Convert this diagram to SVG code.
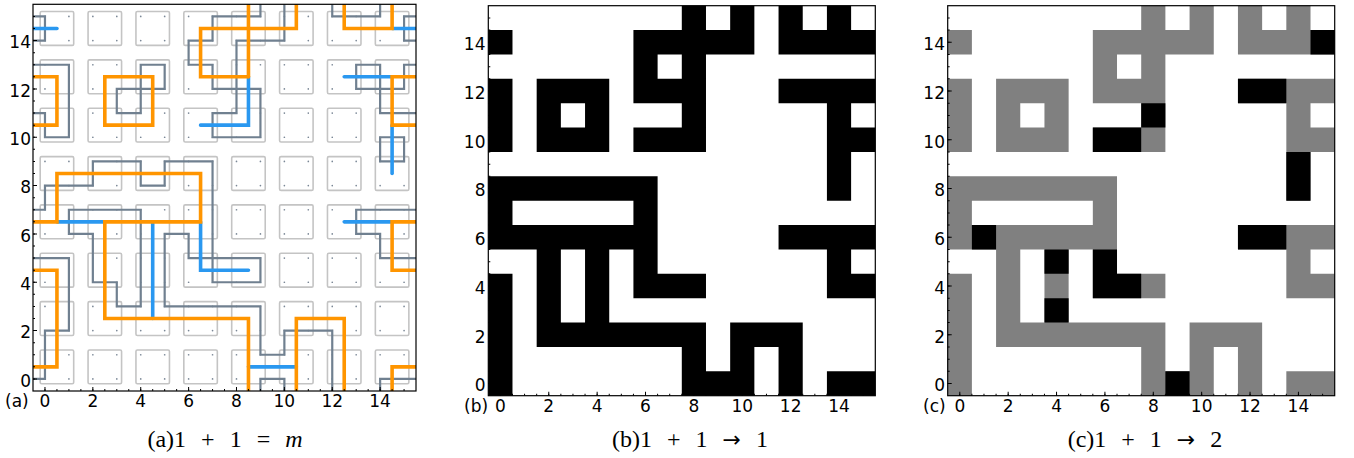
<svg xmlns="http://www.w3.org/2000/svg" xmlns:xlink="http://www.w3.org/1999/xlink" width="1354" height="458" viewBox="0 0 1354 458">
<style>
.lbl{font-family:"DejaVu Sans",sans-serif;font-size:17px;fill:#000}
.yl{text-anchor:end}
.xl{text-anchor:middle}
.cap{font-family:"Liberation Serif","DejaVu Serif",serif;font-size:24px;fill:#000;text-anchor:middle;word-spacing:9px}
.arr{font-family:"DejaVu Sans",sans-serif;font-size:22px}
.frame{fill:none;stroke:#000;stroke-width:1.2}
.tk{stroke:#000;fill:none}
.slate{fill:none;stroke:#708090;stroke-width:2.2;stroke-linejoin:miter;stroke-linecap:square}
.orange{fill:none;stroke:#ff9500;stroke-width:3.6;stroke-linejoin:miter;stroke-linecap:round}
.blue{fill:none;stroke:#2a98f0;stroke-width:3.6;stroke-linejoin:miter;stroke-linecap:round}
</style>
<defs>
<clipPath id="clipA"><rect x="33" y="4.3" width="383" height="386.7"/></clipPath>
<g id="sq">
<rect x="-0.2" y="-0.2" width="1.4" height="1.4" rx="0.06" fill="none" stroke="#c4c4c4" stroke-width="1.6" vector-effect="non-scaling-stroke"/>
<circle cx="0" cy="0" r="0.035" fill="#7a8796"/>
<circle cx="1" cy="0" r="0.035" fill="#7a8796"/>
<circle cx="0" cy="1" r="0.035" fill="#7a8796"/>
<circle cx="1" cy="1" r="0.035" fill="#7a8796"/>
</g>
<path id="cells" d="M8 0h1v1h-1z M10 0h1v1h-1z M12 0h1v1h-1z M14 0h1v1h-1z
M0 1h1v1h-1z M6 1h5v1h-5z M12 1h4v1h-4z
M6 2h1v1h-1z M8 2h1v1h-1z
M0 3h1v1h-1z M2 3h3v1h-3z M6 3h3v1h-3z M12 3h4v1h-4z
M0 4h1v1h-1z M2 4h1v1h-1z M4 4h1v1h-1z M8 4h1v1h-1z M14 4h1v1h-1z
M0 5h1v1h-1z M2 5h3v1h-3z M6 5h3v1h-3z M14 5h2v1h-2z
M14 6h1v1h-1z
M0 7h7v1h-7z M14 7h1v1h-1z
M0 8h1v1h-1z M6 8h1v1h-1z
M0 9h7v1h-7z M12 9h4v1h-4z
M2 10h1v1h-1z M4 10h1v1h-1z M6 10h1v1h-1z M14 10h1v1h-1z
M0 11h1v1h-1z M2 11h1v1h-1z M4 11h1v1h-1z M6 11h3v1h-3z M14 11h2v1h-2z
M0 12h1v1h-1z M2 12h1v1h-1z M4 12h1v1h-1z
M0 13h1v1h-1z M2 13h7v1h-7z M10 13h3v1h-3z
M0 14h1v1h-1z M8 14h1v1h-1z M10 14h1v1h-1z M12 14h1v1h-1z
M0 15h1v1h-1z M8 15h3v1h-3z M12 15h1v1h-1z M14 15h2v1h-2z"/>
</defs>
<rect width="1354" height="458" fill="#fff"/>

<!-- Panel (a) -->
<g id="panel-a">
<g id="plaquettes-a" clip-path="url(#clipA)">
<g transform="matrix(23.94 0 0 -24.17 44.97 378.94)">
<use href="#sq" x="0" y="0"/><use href="#sq" x="2" y="0"/><use href="#sq" x="4" y="0"/><use href="#sq" x="6" y="0"/><use href="#sq" x="8" y="0"/><use href="#sq" x="10" y="0"/><use href="#sq" x="12" y="0"/><use href="#sq" x="14" y="0"/>
<use href="#sq" x="0" y="2"/><use href="#sq" x="2" y="2"/><use href="#sq" x="4" y="2"/><use href="#sq" x="6" y="2"/><use href="#sq" x="8" y="2"/><use href="#sq" x="10" y="2"/><use href="#sq" x="12" y="2"/><use href="#sq" x="14" y="2"/>
<use href="#sq" x="0" y="4"/><use href="#sq" x="2" y="4"/><use href="#sq" x="4" y="4"/><use href="#sq" x="6" y="4"/><use href="#sq" x="8" y="4"/><use href="#sq" x="10" y="4"/><use href="#sq" x="12" y="4"/><use href="#sq" x="14" y="4"/>
<use href="#sq" x="0" y="6"/><use href="#sq" x="2" y="6"/><use href="#sq" x="4" y="6"/><use href="#sq" x="6" y="6"/><use href="#sq" x="8" y="6"/><use href="#sq" x="10" y="6"/><use href="#sq" x="12" y="6"/><use href="#sq" x="14" y="6"/>
<use href="#sq" x="0" y="8"/><use href="#sq" x="2" y="8"/><use href="#sq" x="4" y="8"/><use href="#sq" x="6" y="8"/><use href="#sq" x="8" y="8"/><use href="#sq" x="10" y="8"/><use href="#sq" x="12" y="8"/><use href="#sq" x="14" y="8"/>
<use href="#sq" x="0" y="10"/><use href="#sq" x="2" y="10"/><use href="#sq" x="4" y="10"/><use href="#sq" x="6" y="10"/><use href="#sq" x="8" y="10"/><use href="#sq" x="10" y="10"/><use href="#sq" x="12" y="10"/><use href="#sq" x="14" y="10"/>
<use href="#sq" x="0" y="12"/><use href="#sq" x="2" y="12"/><use href="#sq" x="4" y="12"/><use href="#sq" x="6" y="12"/><use href="#sq" x="8" y="12"/><use href="#sq" x="10" y="12"/><use href="#sq" x="12" y="12"/><use href="#sq" x="14" y="12"/>
<use href="#sq" x="0" y="14"/><use href="#sq" x="2" y="14"/><use href="#sq" x="4" y="14"/><use href="#sq" x="6" y="14"/><use href="#sq" x="8" y="14"/><use href="#sq" x="10" y="14"/><use href="#sq" x="12" y="14"/><use href="#sq" x="14" y="14"/>
</g>
</g>
<g id="connectors-a" clip-path="url(#clipA)">
<g transform="matrix(23.94 0 0 -24.17 44.97 378.94)">
<g id="slate-loops" class="slate">
<path vector-effect="non-scaling-stroke" d="M-0.6 15 H0 V14 H-0.6"/>
<path vector-effect="non-scaling-stroke" d="M-0.6 13 H1 V10 H0 V11 H-0.6"/>
<path vector-effect="non-scaling-stroke" d="M4 13 H5 V12 H3 V11 H4 Z"/>
<path vector-effect="non-scaling-stroke" d="M9 15.6 V15 H7 V14 H6 V13 H7 V12 H9 V10 H7 V11 H8 V14 H10 V15.6"/>
<path vector-effect="non-scaling-stroke" d="M12 15.6 V15 H14 V15.6"/>
<path vector-effect="non-scaling-stroke" d="M15.6 15 H15 V14 H15.6"/>
<path vector-effect="non-scaling-stroke" d="M15.6 13 H15 V12 H13 V13 H14 V11 H15.6"/>
<path vector-effect="non-scaling-stroke" d="M14 10 H15 V9 H14 Z"/>
<path vector-effect="non-scaling-stroke" d="M-0.6 7 H0 V8 H2 V9 H4 V8 H5 V9 H7 V4 H9 V5 H6 V6 H5 V3 H9 V1 H10 V2 H12 V-0.6"/>
<path vector-effect="non-scaling-stroke" d="M1 7 H4 V3 H3 V4 H2 V6 H1 Z"/>
<path vector-effect="non-scaling-stroke" d="M-0.6 5 H1 V2 H0 V0 H-0.6"/>
<path vector-effect="non-scaling-stroke" d="M15.6 7 H13 V6 H14 V5 H15.6"/>
<path vector-effect="non-scaling-stroke" d="M9 -0.6 V0 H10 V-0.6"/>
<path vector-effect="non-scaling-stroke" d="M14 -0.6 V0 H15.6"/>
</g>
<g id="blue-strings" class="blue">
<path vector-effect="non-scaling-stroke" d="M-0.6 14.5 H0.5"/>
<path vector-effect="non-scaling-stroke" d="M14.5 14.5 H15.6"/>
<path vector-effect="non-scaling-stroke" d="M8.5 12.5 V10.5 H6.5"/>
<path vector-effect="non-scaling-stroke" d="M12.5 12.5 H14.5"/>
<path vector-effect="non-scaling-stroke" d="M14.5 10.5 V8.5"/>
<path vector-effect="non-scaling-stroke" d="M0.5 6.5 H2.5"/>
<path vector-effect="non-scaling-stroke" d="M4.5 6.5 V2.5"/>
<path vector-effect="non-scaling-stroke" d="M6.5 6.5 V4.5 H8.5"/>
<path vector-effect="non-scaling-stroke" d="M12.5 6.5 H14.5"/>
<path vector-effect="non-scaling-stroke" d="M8.5 0.5 H10.5"/>
</g>
<g id="orange-strings" class="orange">
<path vector-effect="non-scaling-stroke" d="M-0.6 12.5 H0.5 V10.5 H-0.6"/>
<path vector-effect="non-scaling-stroke" d="M2.5 12.5 H4.5 V10.5 H2.5 Z"/>
<path vector-effect="non-scaling-stroke" d="M10.5 15.6 V14.5 H6.5 V12.5 H8.5"/>
<path vector-effect="non-scaling-stroke" d="M8.5 15.6 V12.5"/>
<path vector-effect="non-scaling-stroke" d="M12.5 15.6 V14.5 H14.5 V15.6"/>
<path vector-effect="non-scaling-stroke" d="M15.6 12.5 H14.5 V10.5 H15.6"/>
<path vector-effect="non-scaling-stroke" d="M-0.6 6.5 H0.5 V8.5 H6.5 V6.5 H2.5 V2.5 H8.5 V-0.6"/>
<path vector-effect="non-scaling-stroke" d="M-0.6 4.5 H0.5 V0.5 H-0.6"/>
<path vector-effect="non-scaling-stroke" d="M15.6 6.5 H14.5 V4.5 H15.6"/>
<path vector-effect="non-scaling-stroke" d="M10.5 -0.6 V2.5 H12.5 V-0.6"/>
<path vector-effect="non-scaling-stroke" d="M14.5 -0.6 V0.5 H15.6"/>
</g>
</g>
</g>
<g id="axes-a">
<line class="tk" x1="44.47" y1="390" x2="405" y2="390" stroke-width="2" stroke-dasharray="1 10.97"/>
<line class="tk" x1="44.47" y1="389" x2="405" y2="389" stroke-width="4" stroke-dasharray="1 46.88"/>
<line class="tk" x1="34" y1="379.44" x2="34" y2="15" stroke-width="2" stroke-dasharray="1 11.085"/>
<line class="tk" x1="35" y1="379.44" x2="35" y2="15" stroke-width="4" stroke-dasharray="1 47.34"/>
<rect class="frame" x="33" y="4.3" width="383" height="386.7"/>
<g class="lbl yl">
<text x="31" y="386.6">0</text><text x="31" y="338.3">2</text><text x="31" y="290">4</text><text x="31" y="241.6">6</text><text x="31" y="193.3">8</text><text x="31" y="144.9">10</text><text x="31" y="96.6">12</text><text x="31" y="48.3">14</text>
</g>
<g class="lbl xl">
<text x="44.97" y="407">0</text><text x="92.85" y="407">2</text><text x="140.73" y="407">4</text><text x="188.61" y="407">6</text><text x="236.49" y="407">8</text><text x="284.37" y="407">10</text><text x="332.25" y="407">12</text><text x="380.13" y="407">14</text>
</g>
<text class="lbl" x="5" y="407">(a)</text>
</g>
<text id="caption-a" class="cap" x="225" y="447">(a)1 + 1 = <tspan font-style="italic">m</tspan></text>
</g>

<!-- Panel (b) -->
<g id="panel-b">
<g id="cells-b" transform="translate(488.3 5.7) scale(24.1875 24.375)">
<use href="#cells" fill="#000"/>
</g>
<g id="axes-b">
<line class="tk" x1="499.89" y1="394.7" x2="865" y2="394.7" stroke-width="2" stroke-dasharray="1 11.094"/>
<line class="tk" x1="499.89" y1="393.7" x2="865" y2="393.7" stroke-width="4" stroke-dasharray="1 47.375"/>
<line class="tk" x1="489.3" y1="384.01" x2="489.3" y2="17" stroke-width="2" stroke-dasharray="1 11.1875"/>
<line class="tk" x1="490.3" y1="384.01" x2="490.3" y2="17" stroke-width="4" stroke-dasharray="1 47.75"/>
<rect class="frame" x="488.3" y="5.7" width="387" height="390"/>
<g class="lbl yl">
<text x="485.5" y="391.2">0</text><text x="485.5" y="342.5">2</text><text x="485.5" y="293.7">4</text><text x="485.5" y="245">6</text><text x="485.5" y="196.2">8</text><text x="485.5" y="147.5">10</text><text x="485.5" y="98.7">12</text><text x="485.5" y="50">14</text>
</g>
<g class="lbl xl">
<text x="500.39" y="411.5">0</text><text x="548.76" y="411.5">2</text><text x="597.14" y="411.5">4</text><text x="645.51" y="411.5">6</text><text x="693.89" y="411.5">8</text><text x="742.26" y="411.5">10</text><text x="790.64" y="411.5">12</text><text x="839.01" y="411.5">14</text>
</g>
<text class="lbl" x="464" y="411.5">(b)</text>
</g>
<text id="caption-b" class="cap" x="690" y="447">(b)1 + 1 <tspan class="arr">→</tspan> 1</text>
</g>

<!-- Panel (c) -->
<g id="panel-c">
<g id="cells-c" transform="translate(947.7 5.7) scale(24.1875 24.375)">
<use href="#cells" fill="#808080"/>
<path fill="#000" d="M15 1h1v1h-1z M12 3h2v1h-2z M8 4h1v1h-1z M6 5h2v1h-2z M14 6h1v1h-1z M14 7h1v1h-1z M1 9h1v1h-1z M12 9h2v1h-2z M4 10h1v1h-1z M6 10h1v1h-1z M6 11h2v1h-2z M4 12h1v1h-1z M9 15h1v1h-1z"/>
</g>
<g id="axes-c">
<line class="tk" x1="959.29" y1="394.7" x2="1324" y2="394.7" stroke-width="2" stroke-dasharray="1 11.094"/>
<line class="tk" x1="959.29" y1="393.7" x2="1324" y2="393.7" stroke-width="4" stroke-dasharray="1 47.375"/>
<line class="tk" x1="948.7" y1="384.01" x2="948.7" y2="17" stroke-width="2" stroke-dasharray="1 11.1875"/>
<line class="tk" x1="949.7" y1="384.01" x2="949.7" y2="17" stroke-width="4" stroke-dasharray="1 47.75"/>
<rect class="frame" x="947.7" y="5.7" width="387" height="390"/>
<g class="lbl yl">
<text x="945" y="391.2">0</text><text x="945" y="342.5">2</text><text x="945" y="293.7">4</text><text x="945" y="245">6</text><text x="945" y="196.2">8</text><text x="945" y="147.5">10</text><text x="945" y="98.7">12</text><text x="945" y="50">14</text>
</g>
<g class="lbl xl">
<text x="959.79" y="411.5">0</text><text x="1008.16" y="411.5">2</text><text x="1056.54" y="411.5">4</text><text x="1104.91" y="411.5">6</text><text x="1153.29" y="411.5">8</text><text x="1201.66" y="411.5">10</text><text x="1250.04" y="411.5">12</text><text x="1298.41" y="411.5">14</text>
</g>
<text class="lbl" x="923" y="411.5">(c)</text>
</g>
<text id="caption-c" class="cap" x="1145" y="447">(c)1 + 1 <tspan class="arr">→</tspan> 2</text>
</g>
</svg>
